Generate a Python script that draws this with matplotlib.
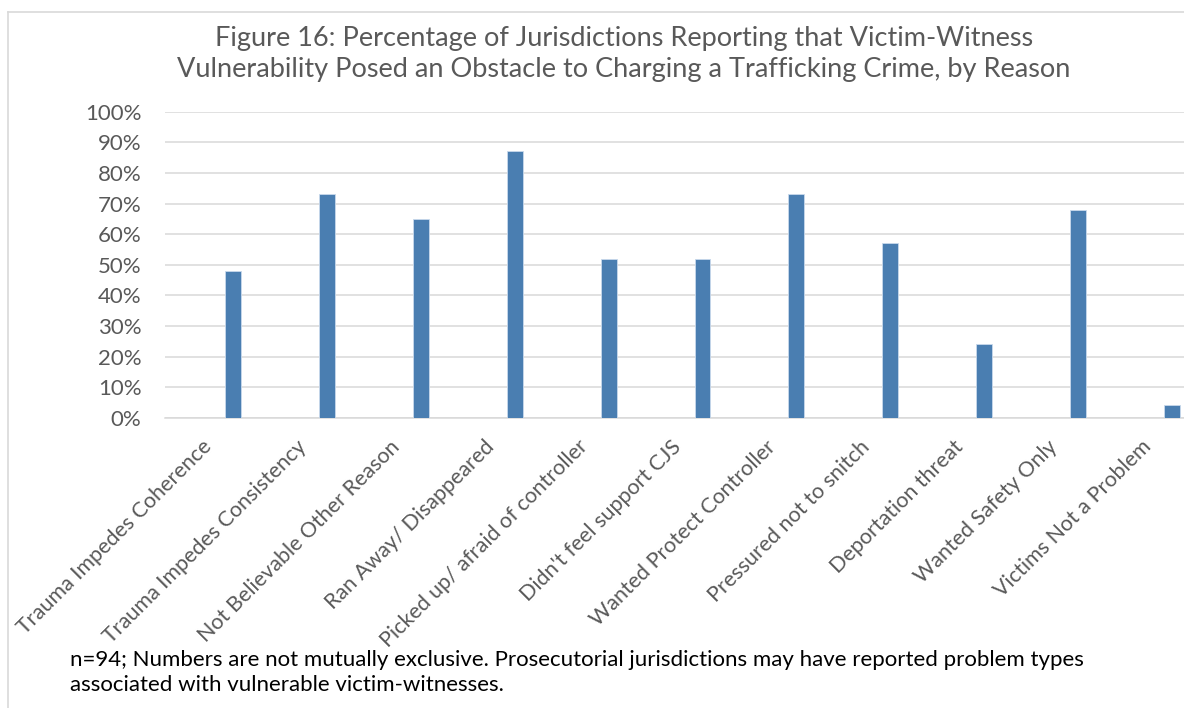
import matplotlib.pyplot as plt
import matplotlib.transforms as mtransforms
from matplotlib.lines import Line2D
from matplotlib.ticker import PercentFormatter

# Reasons and share of jurisdictions reporting each one
reasons = [
    "Trauma Impedes Coherence",
    "Trauma Impedes Consistency",
    "Not Believable Other Reason",
    "Ran Away/ Disappeared",
    "Picked up/ afraid of controller",
    "Didn't feel support CJS",
    "Wanted Protect Controller",
    "Pressured not to snitch",
    "Deportation threat",
    "Wanted Safety Only",
    "Victims Not a Problem",
]
pct = [0.48, 0.73, 0.65, 0.87, 0.52, 0.52, 0.73, 0.57, 0.24, 0.68, 0.04]
yticks = [i / 10 for i in range(11)]

title = ("Figure 16: Percentage of Jurisdictions Reporting that Victim-Witness\n"
         "Vulnerability Posed an Obstacle to Charging a Trafficking Crime, by Reason")
note = ("n=94; Numbers are not mutually exclusive. Prosecutorial jurisdictions may have reported problem types\n"
        "associated with vulnerable victim-witnesses.")

plt.rcParams['font.family'] = ['Lato', 'DejaVu Sans']

W, H = 1184, 708
fig = plt.figure(figsize=(W / 100, H / 100), dpi=100)
fig.patch.set_facecolor('white')

# plot area in pixels
left, right, top, bottom = 165, 1184, 111.7, 417.7
ax = fig.add_axes([left / W, 1 - bottom / H, (right - left) / W, (bottom - top) / H])

x = list(range(len(reasons)))
ax.bar(x, pct, width=0.17, color='#4A7EB1', edgecolor='#C9D9EC', linewidth=0.6, zorder=3)

ax.set_ylim(0, 1)
ax.set_xlim(-0.724, 10.128)
ax.set_yticks(yticks)
ax.yaxis.set_major_formatter(PercentFormatter(1.0, decimals=0))
ax.grid(axis='y', color='#D9D9D9', linewidth=1.1, zorder=0)
ax.set_axisbelow(True)
for s in ['left', 'right', 'top']:
    ax.spines[s].set_visible(False)
ax.spines['bottom'].set_color('#D9D9D9')
ax.spines['bottom'].set_linewidth(1.1)
ax.tick_params(axis='both', length=0, colors='#595959')
ax.tick_params(axis='y', pad=17, labelsize=16)
ax.tick_params(axis='x', labelsize=15.5)

ax.set_xticks(x)
ax.set_xticklabels(reasons, rotation=45, ha='right', va='center', rotation_mode='anchor')
shift = mtransforms.ScaledTranslation(-24 / 100, -21 / 100, fig.dpi_scale_trans)
for lbl in ax.get_xticklabels():
    lbl.set_transform(lbl.get_transform() + shift)

fig.text(624 / W, 1 - 54 / H, title, ha='center', va='center', fontsize=19.5,
         color='#595959', linespacing=1.3)
fig.text(70 / W, 1 - 650 / H, note, ha='left', va='top', fontsize=16,
         color='black', linespacing=1.3)

# light frame around the chart area
fig.add_artist(Line2D([8 / W, 1], [1 - 12 / H, 1 - 12 / H], color='#D9D9D9', linewidth=1.2))
fig.add_artist(Line2D([8 / W, 8 / W], [0, 1 - 12 / H], color='#D9D9D9', linewidth=1.2))

fig.savefig('out.png', dpi=100)
